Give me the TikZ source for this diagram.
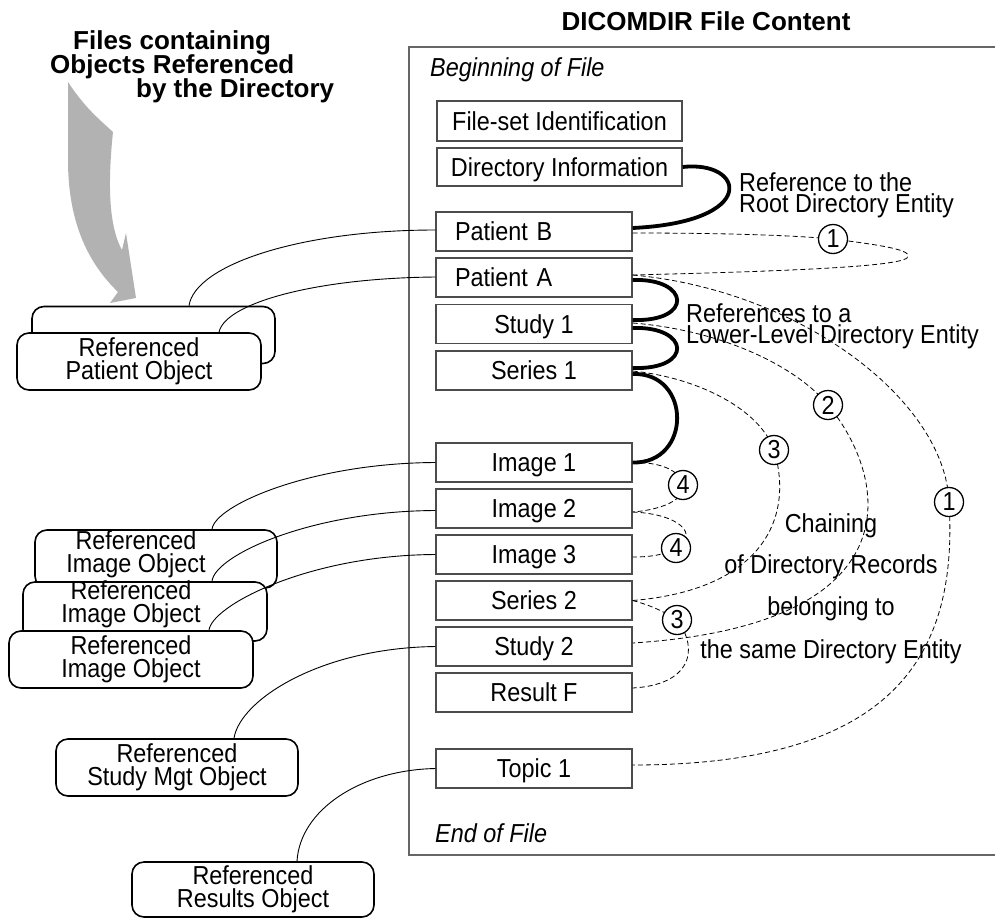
\documentclass[tikz,border=0pt]{standalone}
\usepackage{fontspec}
\setmainfont{Liberation Sans}[FakeStretch=0.9]
\newfontfamily\hdrfont{Liberation Sans}
\newcommand\myfs{\fontsize{26}{23}\selectfont}
\newcommand\mybf{\hdrfont\fontsize{26}{24}\selectfont\bfseries}
\begin{document}
\begin{tikzpicture}[x=1pt,y=-1pt,
 recbox/.style={draw=black!70, line width=1.2pt, minimum width=196pt, minimum height=39pt, inner sep=0pt, font=\myfs, text height=18.6pt, text depth=0pt},
 patbox/.style={recbox, text width=158pt, align=left, inner xsep=19pt},
 refbox/.style={draw=black, line width=1.6pt, fill=white, rounded corners=12pt, inner sep=0pt, align=center, font=\myfs},
 reftext/.style={align=center, font=\myfs, inner sep=0pt},
 thk/.style={line width=3.8pt},
 dsh/.style={line width=0.8pt, dash pattern=on 5pt off 3pt},
 lnk/.style={line width=0.9pt},
 num/.style={circle, draw=black, line width=1.3pt, fill=white, minimum size=29pt, inner sep=0pt, font=\myfs},
 lbl/.style={font=\myfs, inner sep=0pt, anchor=base west},
 mlbl/.style={font=\fontsize{26}{21.5}\selectfont, inner sep=0pt, align=left, anchor=north west},
 clbl/.style={font=\myfs, inner sep=0pt, anchor=base},
 hdr/.style={font=\mybf, inner sep=0pt, anchor=base west},
]
\useasboundingbox (0,0) rectangle (995,918);

% big gray arrow
\fill[black!30] (68,82) .. controls (85,108) and (100,120) .. (113,132)
  .. controls (108,180) and (108,225) .. (122,250) -- (126,233) -- (136,298)
  -- (110,303) -- (118,292) .. controls (90,265) and (68,225) .. (68,160) -- cycle;

% frame
\draw[black!60, line width=1.2pt] (995,47) -- (409,47) -- (409,855) -- (995,855);

% headings
\node[hdr, anchor=base] (ttl) at (706,30) {DICOMDIR File Content};
\node[hdr] (f1) at (73,49) {Files containing};
\node[hdr] (f2) at (50,73) {Objects Referenced};
\node[hdr] (f3) at (136,97) {by the Directory};
\node[lbl, font=\myfs\itshape] (bof) at (430,76) {Beginning of File};
\node[lbl, font=\myfs\itshape] (eof) at (435,842) {End of File};

% directory records
\node[recbox, minimum width=245pt, minimum height=40pt] (fsi) at (559.5,121) {File-set Identification};
\node[recbox, minimum width=245pt, minimum height=38pt] (dir) at (559.5,167) {Directory Information};
\node[patbox] (pb) at (534,231.5) {Patient B};
\node[patbox] (pa) at (534,277.5) {Patient A};
\node[recbox] (s1) at (534,324) {Study 1};
\node[recbox] (se1) at (534,370.5) {Series 1};
\node[recbox] (i1) at (534,462.5) {Image 1};
\node[recbox] (i2) at (534,508.5) {Image 2};
\node[recbox] (i3) at (534,554.5) {Image 3};
\node[recbox] (se2) at (534,600.5) {Series 2};
\node[recbox] (st2) at (534,646.5) {Study 2};
\node[recbox] (rf) at (534,692.5) {Result F};
\node[recbox] (t1) at (534,768.5) {Topic 1};

% thick references
\draw[thk] (dir.east) .. controls (745,160) and (760,222) .. ([yshift=3.5pt]pb.east);
\draw[thk] ([yshift=-2.5pt]pa.east) .. controls (690,278) and (694,322) .. ([yshift=4pt]s1.east);
\draw[thk] ([yshift=-4pt]s1.east) .. controls (690,326) and (694,370) .. ([yshift=2.5pt]se1.east);
\draw[thk] ([yshift=-3.5pt]se1.east) .. controls (692,372) and (692,464) .. (i1.east);

% chaining (dashed)
\coordinate (c1) at (833,239);
\coordinate (c1b) at (949,502);
\coordinate (c2) at (828,405);
\coordinate (c3) at (774,450);
\coordinate (c4a) at (683,485);
\coordinate (c4b) at (676,548);
\coordinate (c3b) at (677,620);
\draw[dsh] ([yshift=-1.5pt]pb.east) .. controls (740,233) and (800,236) .. (c1)
  .. controls (880,245) and (915,250) .. (907,258)
  .. controls (895,268) and (750,272) .. ([yshift=2.5pt]pa.east);
\draw[dsh] ([yshift=2.5pt]pa.east) .. controls (800,290) and (945,400) .. (c1b)
  .. controls (958,650) and (900,765) .. ([yshift=3.5pt]t1.east);
\draw[dsh] ([yshift=1pt]s1.east) .. controls (720,330) and (795,365) .. (c2)
  .. controls (890,480) and (915,625) .. ([yshift=3.5pt]st2.east);
\draw[dsh] ([yshift=-0.5pt]se1.east) .. controls (700,378) and (760,410) .. (c3)
  .. controls (795,520) and (760,590) .. (se2.east);
\draw[dsh] (i1.east) .. controls (660,462) and (680,470) .. (c4a)
  .. controls (686,500) and (660,510) .. ([yshift=-3.5pt]i2.east);
\draw[dsh] ([yshift=-3.5pt]i2.east) .. controls (680,514) and (700,535) .. (c4b)
  .. controls (665,555) and (650,557) .. ([yshift=-2.5pt]i3.east);
\draw[dsh] (se2.east) .. controls (650,605) and (665,612) .. (c3b)
  .. controls (700,650) and (690,685) .. ([yshift=4.5pt]rf.east);

\node[num] (n1) at (c1) {1};
\node[num] (n1b) at (c1b) {1};
\node[num] (n2) at (c2) {2};
\node[num] (n3) at (c3) {3};
\node[num] (n4a) at (c4a) {4};
\node[num] (n4b) at (c4b) {4};
\node[num] (n3b) at (c3b) {3};

% labels
\node[mlbl] (rroot) at (739,172) {Reference to the\\Root Directory Entity};
\node[mlbl] (rlow) at (686,303) {References to a\\Lower-Level Directory Entity};
\node[clbl] (ch1) at (831,532) {Chaining};
\node[clbl] (ch2) at (831,573) {of Directory Records};
\node[clbl] (ch3) at (831,615) {belonging to};
\node[clbl] (ch4) at (831,658) {the same Directory Entity};

% referenced objects
\node[refbox, minimum width=243pt, minimum height=57pt] (pob1) at (153.5,335) {};
\node[refbox, minimum width=244pt, minimum height=57pt] (pob2) at (139,361.5) {Referenced\\Patient Object};
\node[refbox, minimum width=242pt, minimum height=58pt] (img1) at (156,559) {};
\node[reftext] (img1t) at (136,554.5) {Referenced\\Image Object};
\node[refbox, minimum width=244pt, minimum height=59pt] (img2) at (145,611.5) {};
\node[reftext] (img2t) at (131,604) {Referenced\\Image Object};
\node[refbox, minimum width=244pt, minimum height=57pt] (img3) at (131,659.5) {Referenced\\Image Object};
\node[refbox, minimum width=242pt, minimum height=57pt] (sm) at (177,767.5) {Referenced\\Study Mgt Object};
\node[refbox, minimum width=242pt, minimum height=55pt] (rs) at (253,889.5) {Referenced\\Results Object};

% links to referenced objects
\draw[lnk] ([yshift=1.5pt]pb.west) .. controls (300,230) and (195,265) .. ([xshift=35.5pt]pob1.north);
\draw[lnk] ([yshift=0.5pt]pa.west) .. controls (316,278) and (225,303) .. ([xshift=80pt]pob2.north);
\draw[lnk] (i1.west) .. controls (312,463) and (215,505) .. ([xshift=56pt]img1.north);
\draw[lnk] ([yshift=-2pt]i2.west) .. controls (312,511) and (215,555) .. ([xshift=67pt]img2.north);
\draw[lnk] (i3.west) .. controls (310,555) and (212,605) .. ([xshift=78pt]img3.north);
\draw[lnk] (st2.west) .. controls (320,648) and (240,700) .. ([xshift=57pt]sm.north);
\draw[lnk] (t1.west) .. controls (360,770) and (300,810) .. ([xshift=44pt]rs.north);
\end{tikzpicture}
\end{document}
